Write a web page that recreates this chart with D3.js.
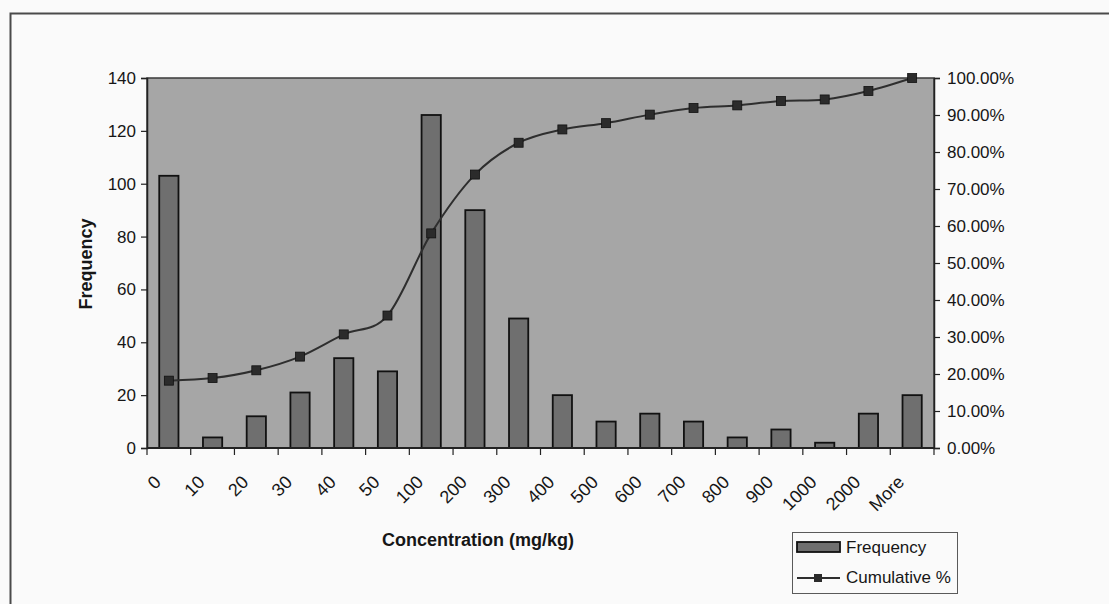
<!DOCTYPE html>
<html><head><meta charset="utf-8">
<script src="https://cdn.jsdelivr.net/npm/d3@7"></script>
<style>
body{margin:0;background:#fafafa;}
svg{display:block;}
text{font-family:Arial,"Liberation Sans",sans-serif;fill:#161616;}
</style>
</head><body>
<svg id="chart" width="1109" height="604"></svg>
<script>
// ---- data ----
const categories = ["0","10","20","30","40","50","100","200","300","400","500","600","700","800","900","1000","2000","More"];
const frequency = [103,4,12,21,34,29,126,90,49,20,10,13,10,4,7,2,13,20];
const cumulativePct = [18.2,18.9,21.0,24.7,30.7,35.8,58.0,73.9,82.5,86.1,87.8,90.1,91.9,92.6,93.8,94.2,96.5,100.0];
const freqTicks = [0,20,40,60,80,100,120,140];
const pctTicks = [0,10,20,30,40,50,60,70,80,90,100];
const xTitle = "Concentration (mg/kg)";
const yTitle = "Frequency";
const legendLabels = ["Frequency","Cumulative %"];

// ---- layout ----
const W = 1109, H = 604;
const plot = {left:147, right:934, top:78, bottom:448};
const FONT = 'Arial,"Liberation Sans",sans-serif';
const svg = d3.select("#chart");

// outer frame (extends past right/bottom edges)
svg.append("path")
  .attr("d", `M10.5,${H+5} L10.5,13.5 L${W+5},13.5`)
  .attr("fill","none").attr("stroke","#4a4a4a").attr("stroke-width",2);

const xSlots = d3.scaleBand().domain(categories).range([plot.left, plot.right]).padding(0);
const xBars = d3.scaleBand().domain(categories).range([plot.left, plot.right]).paddingInner(0.56).paddingOuter(0.28);
const yFreq = d3.scaleLinear().domain([0,140]).range([plot.bottom, plot.top]);
const yPct = d3.scaleLinear().domain([0,100]).range([plot.bottom, plot.top]);

// plot background
svg.append("rect")
  .attr("x",plot.left).attr("y",plot.top)
  .attr("width",plot.right-plot.left).attr("height",plot.bottom-plot.top)
  .attr("fill","#a6a6a6").attr("stroke","#3a3a3a").attr("stroke-width",1.5);

// bars
svg.append("g").selectAll("rect").data(frequency).join("rect")
  .attr("x",(d,i)=>xBars(categories[i]))
  .attr("y",d=>yFreq(d))
  .attr("width",xBars.bandwidth())
  .attr("height",d=>yFreq(0)-yFreq(d))
  .attr("fill","#6f6f6f").attr("stroke","#111").attr("stroke-width",1.8);

// cumulative line
const cx = (i)=>xSlots(categories[i]) + xSlots.bandwidth()/2;
const line = d3.line().x((d,i)=>cx(i)).y(d=>yPct(d)).curve(d3.curveCardinal.tension(0));
svg.append("path").datum(cumulativePct)
  .attr("d",line).attr("fill","none").attr("stroke","#2e2e2e").attr("stroke-width",2);
svg.append("g").selectAll("rect").data(cumulativePct).join("rect")
  .attr("x",(d,i)=>cx(i)-4.5).attr("y",d=>yPct(d)-4.5)
  .attr("width",9).attr("height",9)
  .attr("fill","#2b2b2b").attr("stroke","#111").attr("stroke-width",0.8);

// left axis
const leftAxis = d3.axisLeft(yFreq).tickValues(freqTicks).tickSize(6).tickPadding(5);
const gL = svg.append("g").attr("transform",`translate(${plot.left},0)`).call(leftAxis);
gL.select(".domain").attr("stroke","#222").attr("stroke-width",1.5);
gL.selectAll(".tick line").attr("stroke","#222").attr("stroke-width",1.2);
gL.selectAll(".tick text").attr("font-size",17).attr("fill","#161616").attr("font-family",FONT);

// right axis
const rightAxis = d3.axisRight(yPct).tickValues(pctTicks).tickSize(6).tickPadding(7).tickFormat(d=>d.toFixed(2)+"%");
const gR = svg.append("g").attr("transform",`translate(${plot.right},0)`).call(rightAxis);
gR.select(".domain").attr("stroke","#222").attr("stroke-width",1.5);
gR.selectAll(".tick line").attr("stroke","#222").attr("stroke-width",1.2);
gR.selectAll(".tick text").attr("font-size",17).attr("fill","#161616").attr("font-family",FONT);

// bottom axis: ticks on slot boundaries
const boundaries = categories.map(c=>xSlots(c)).concat([plot.right]);
const gB = svg.append("g");
gB.append("line").attr("x1",plot.left).attr("x2",plot.right).attr("y1",plot.bottom).attr("y2",plot.bottom)
  .attr("stroke","#222").attr("stroke-width",1.8);
gB.selectAll("line.t").data(boundaries).join("line").attr("class","t")
  .attr("x1",d=>d).attr("x2",d=>d).attr("y1",plot.bottom).attr("y2",plot.bottom+7)
  .attr("stroke","#222").attr("stroke-width",1.2);
gB.selectAll("text").data(categories).join("text")
  .attr("transform",(d,i)=>`translate(${cx(i)-11},${plot.bottom+31}) rotate(-45)`)
  .attr("text-anchor","end").attr("dominant-baseline","central")
  .attr("font-size",18).text(d=>d);

// axis titles
svg.append("text").attr("transform",`translate(92,264) rotate(-90)`)
  .attr("text-anchor","middle").attr("font-size",18).attr("font-weight","bold").text(yTitle);
svg.append("text").attr("x",478).attr("y",546)
  .attr("text-anchor","middle").attr("font-size",18).attr("font-weight","bold").text(xTitle);

// legend
const lg = svg.append("g");
lg.append("rect").attr("x",792.5).attr("y",532.5).attr("width",165).attr("height",61)
  .attr("fill","#fafafa").attr("stroke","#5a5a5a").attr("stroke-width",1);
lg.append("rect").attr("x",797).attr("y",542).attr("width",43).attr("height",10)
  .attr("fill","#6f6f6f").attr("stroke","#111").attr("stroke-width",1.8);
lg.append("line").attr("x1",797).attr("x2",840).attr("y1",578).attr("y2",578)
  .attr("stroke","#2e2e2e").attr("stroke-width",2);
lg.append("rect").attr("x",814).attr("y",574).attr("width",8).attr("height",8)
  .attr("fill","#2b2b2b");
lg.selectAll("text.l").data(legendLabels).join("text").attr("class","l")
  .attr("x",846).attr("y",(d,i)=>547+i*30).attr("dominant-baseline","central")
  .attr("font-size",17).text(d=>d);
</script>
</body></html>
